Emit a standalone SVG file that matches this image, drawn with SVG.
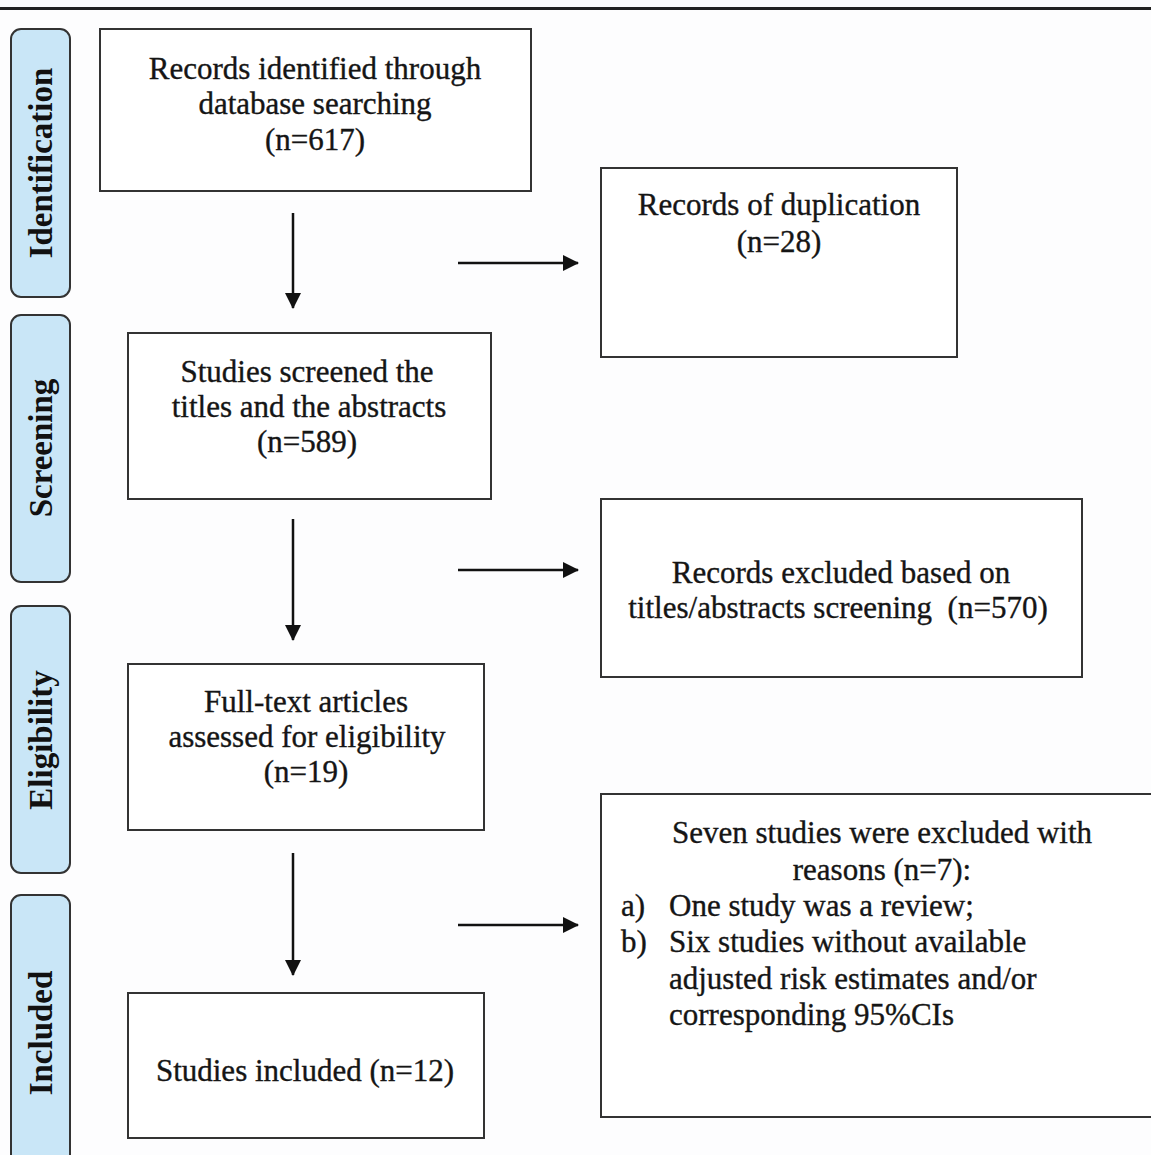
<svg xmlns="http://www.w3.org/2000/svg" width="1151" height="1155" viewBox="0 0 1151 1155">
<defs>
<marker id="ah" markerWidth="16" markerHeight="16" refX="15" refY="8" orient="auto" markerUnits="userSpaceOnUse">
<path d="M0,0 L16,8 L0,16 Z" fill="#111"/>
</marker>
<style>
.box{fill:#fff;stroke:#333;stroke-width:2}
.stage{fill:#c9e6f7;stroke:#333;stroke-width:2}
.t{font-family:"Liberation Serif","Times New Roman",serif;font-size:31px;fill:#151515;stroke:#151515;stroke-width:0.35}
.c{text-anchor:middle}
.lab{font-family:"Liberation Serif","Times New Roman",serif;font-size:33px;font-weight:bold;fill:#111;text-anchor:middle}
.ln{stroke:#111;stroke-width:2.5;fill:none}
</style>
</defs>
<rect width="1151" height="1155" fill="#fdfdfe"/>
<line x1="0" y1="8.5" x2="1151" y2="8.5" stroke="#222" stroke-width="3"/>

<g id="stage-identification">
<rect class="stage" x="11" y="29" width="59" height="268" rx="10"/>
<text class="lab" transform="translate(52,163) rotate(-90)">Identification</text>
</g>
<g id="stage-screening">
<rect class="stage" x="11" y="315" width="59" height="267" rx="10"/>
<text class="lab" transform="translate(52,448) rotate(-90)">Screening</text>
</g>
<g id="stage-eligibility">
<rect class="stage" x="11" y="606" width="59" height="267" rx="10"/>
<text class="lab" transform="translate(52,740) rotate(-90)">Eligibility</text>
</g>
<g id="stage-included">
<rect class="stage" x="11" y="895" width="59" height="290" rx="10"/>
<text class="lab" transform="translate(52,1033) rotate(-90)">Included</text>
</g>

<g id="n-identified">
<rect class="box" x="100" y="29" width="431" height="162"/>
<text class="t c" x="315" y="79">Records identified through</text>
<text class="t c" x="315" y="114">database searching</text>
<text class="t c" x="315" y="150">(n=617)</text>
</g>
<g id="n-duplication">
<rect class="box" x="601" y="168" width="356" height="189"/>
<text class="t c" x="779" y="215">Records of duplication</text>
<text class="t c" x="779" y="252">(n=28)</text>
</g>
<g id="n-screened">
<rect class="box" x="128" y="333" width="363" height="166"/>
<text class="t c" x="307" y="382">Studies screened the</text>
<text class="t c" x="309" y="417">titles and the abstracts</text>
<text class="t c" x="307" y="452">(n=589)</text>
</g>
<g id="n-excluded-screening">
<rect class="box" x="601" y="499" width="481" height="178"/>
<text class="t c" x="841" y="583">Records excluded based on</text>
<text class="t c" x="838" y="618" xml:space="preserve">titles/abstracts screening  (n=570)</text>
</g>
<g id="n-fulltext">
<rect class="box" x="128" y="664" width="356" height="166"/>
<text class="t c" x="306" y="712">Full-text articles</text>
<text class="t c" x="307" y="747">assessed for eligibility</text>
<text class="t c" x="306" y="782">(n=19)</text>
</g>
<g id="n-excluded-reasons">
<rect class="box" x="601" y="794" width="570" height="323"/>
<text class="t c" x="882" y="843">Seven studies were excluded with</text>
<text class="t c" x="882" y="880">reasons (n=7):</text>
<text class="t" x="621" y="916">a)</text>
<text class="t" x="669" y="916">One study was a review;</text>
<text class="t" x="621" y="952">b)</text>
<text class="t" x="669" y="952">Six studies without available</text>
<text class="t" x="669" y="989">adjusted risk estimates and/or</text>
<text class="t" x="669" y="1025">corresponding 95%CIs</text>
</g>
<g id="n-included">
<rect class="box" x="128" y="993" width="356" height="145"/>
<text class="t c" x="305" y="1081">Studies included (n=12)</text>
</g>

<g id="connectors">
<line class="ln" x1="293" y1="213" x2="293" y2="308" marker-end="url(#ah)"/>
<line class="ln" x1="458" y1="263" x2="578" y2="263" marker-end="url(#ah)"/>
<line class="ln" x1="293" y1="519" x2="293" y2="640" marker-end="url(#ah)"/>
<line class="ln" x1="458" y1="570" x2="578" y2="570" marker-end="url(#ah)"/>
<line class="ln" x1="293" y1="853" x2="293" y2="975" marker-end="url(#ah)"/>
<line class="ln" x1="458" y1="925" x2="578" y2="925" marker-end="url(#ah)"/>
</g>
</svg>
